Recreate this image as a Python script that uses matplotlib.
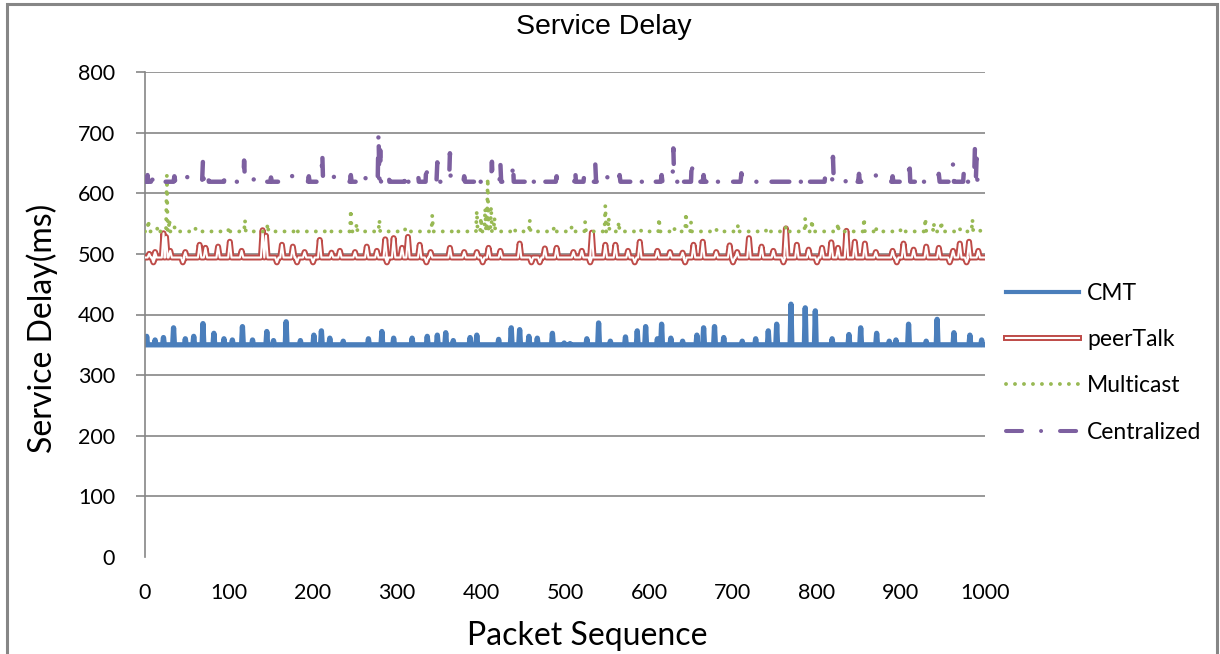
import matplotlib
matplotlib.use("Agg")
import matplotlib.pyplot as plt
from matplotlib.lines import Line2D
from matplotlib.patches import Rectangle
from matplotlib.legend_handler import HandlerTuple

# baseline delay (ms) of each series and its visible bumps as (packet, ms)
cmt_base = 350
cmt_peaks = [(2, 364), (12, 358), (22, 362), (34, 378), (48, 360), (58, 364), (69, 385),
             (82, 369), (94, 360), (104, 358), (116, 380), (128, 358), (145, 372), (153, 357),
             (168, 388), (185, 357), (201, 366), (210, 373), (220, 361), (236, 356), (266, 360),
             (282, 372), (296, 361), (318, 361), (336, 364), (348, 366), (358, 370), (367, 357),
             (387, 362), (395, 366), (421, 359), (436, 378), (446, 375), (457, 364), (467, 361),
             (485, 369), (499, 353), (506, 352), (526, 360), (540, 386), (554, 356), (572, 363),
             (586, 373), (596, 380), (610, 360), (615, 384), (626, 361), (640, 356), (657, 366),
             (665, 378), (678, 380), (689, 362), (711, 356), (727, 360), (742, 373), (752, 384),
             (769, 417), (786, 411), (798, 406), (818, 360), (838, 367), (852, 378), (871, 369),
             (886, 356), (894, 358), (909, 384), (930, 356), (943, 392), (963, 370), (982, 366),
             (996, 358)]

peer_base = 494
peer_peaks = [(5, 500), (10, 486), (12, 503), (22, 534), (25, 528), (30, 505), (45, 486),
              (48, 503), (65, 515), (72, 510), (87, 512), (101, 520), (115, 505), (140, 539),
              (144, 530), (157, 486), (163, 515), (176, 512), (181, 486), (190, 503), (200, 486),
              (208, 523), (222, 502), (232, 505), (250, 503), (264, 512), (276, 505), (286, 524),
              (288, 486), (296, 526), (306, 510), (313, 528), (327, 515), (335, 486), (340, 503),
              (363, 510), (380, 503), (395, 503), (402, 486), (409, 510), (423, 505), (446, 517),
              (460, 486), (470, 486), (476, 509), (490, 510), (510, 503), (520, 505), (530, 486),
              (532, 535), (548, 515), (560, 515), (575, 505), (583, 486), (589, 520), (610, 505),
              (625, 503), (640, 502), (643, 486), (653, 515), (664, 520), (680, 503), (696, 514),
              (700, 486), (705, 503), (719, 526), (734, 512), (748, 505), (760, 486), (763, 542),
              (776, 515), (790, 507), (800, 486), (806, 510), (817, 519), (825, 510), (835, 538),
              (845, 520), (857, 517), (870, 503), (890, 505), (895, 486), (903, 517), (915, 507),
              (930, 512), (945, 510), (958, 486), (962, 505), (970, 517), (978, 486), (981, 520),
              (992, 505)]

multi_base = 537
multi_peaks = [(4, 556), (15, 545), (26, 630), (29, 557), (35, 545), (60, 542), (100, 545),
               (119, 556), (146, 550), (180, 542), (215, 540), (245, 573), (252, 550), (279, 556),
               (310, 542), (342, 564), (370, 540), (395, 571), (400, 560), (405, 575), (408, 625),
               (412, 578), (416, 560), (440, 542), (458, 556), (487, 545), (508, 545), (524, 553),
               (548, 580), (552, 560), (564, 553), (590, 540), (612, 559), (630, 543), (644, 568),
               (650, 552), (680, 541), (706, 548), (740, 542), (763, 545), (786, 559), (794, 556),
               (825, 551), (856, 559), (870, 545), (900, 542), (929, 559), (939, 551), (948, 554),
               (970, 542), (985, 557), (995, 540)]

central_base = 619
central_peaks = [(3, 630), (8, 638), (20, 625), (35, 628), (50, 630), (69, 655), (75, 632),
                 (95, 628), (118, 654), (130, 628), (150, 626), (175, 630), (195, 628), (211, 669),
                 (225, 628), (245, 630), (262, 632), (278, 702), (280, 671), (290, 632), (310, 635),
                 (325, 632), (335, 650), (348, 651), (363, 666), (380, 628), (395, 632), (413, 652),
                 (423, 652), (438, 651), (455, 630), (470, 628), (490, 628), (512, 642), (523, 632),
                 (536, 650), (550, 632), (565, 630), (580, 628), (600, 626), (615, 630), (629, 674),
                 (640, 632), (651, 656), (665, 630), (680, 628), (695, 625), (710, 633), (740, 625),
                 (770, 628), (790, 630), (810, 632), (819, 660), (835, 628), (850, 632), (870, 630),
                 (890, 628), (910, 657), (925, 630), (945, 632), (962, 651), (975, 640), (988, 676),
                 (990, 657), (998, 625)]

y_ticks = [0, 100, 200, 300, 400, 500, 600, 700, 800]
x_ticks = [0, 100, 200, 300, 400, 500, 600, 700, 800, 900, 1000]

GRID = "#868686"
FONT = "Lato"


def build_series(base, peaks, width=1):
    # flat baseline between bumps, each bump rises and falls within a few packets
    xs, ys = [0], [base]
    for p, v in peaks:
        xs += [p - width, p, p + width]
        ys += [base, v, base]
    xs.append(1000)
    ys.append(base)
    return xs, ys


fig = plt.figure(figsize=(12.2, 6.54), dpi=100)
ax = fig.add_axes([145 / 1220, 1 - 557 / 654, 840 / 1220, 485 / 654])

ax.hlines(y_ticks[1:], 0, 1000, color=GRID, lw=1.2, zorder=0)

x, y = build_series(cmt_base, cmt_peaks)
ax.plot(x, y, color="#4A7EBB", lw=3.8, solid_joinstyle="round", zorder=2)

x, y = build_series(peer_base, peer_peaks, width=2)
ax.plot(x, y, color="#BE4B48", lw=4.3, solid_joinstyle="round", zorder=3)
ax.plot(x, y, color="white", lw=1.5, solid_joinstyle="round", zorder=3)

x, y = build_series(multi_base, multi_peaks)
ax.plot(x, y, color="#98B954", lw=2.8, linestyle=(0, (0.01, 2.3)),
        dash_capstyle="round", zorder=4)

central_style = (0, (4, 4.7, 0.01, 4.7))
x, y = build_series(central_base, central_peaks)
ax.plot(x, y, color="#7D60A0", lw=3.2, linestyle=central_style,
        dash_capstyle="round", zorder=5)

ax.set_xlim(0, 1000)
ax.set_ylim(0, 800)
ax.set_xticks(x_ticks)
ax.set_yticks(y_ticks)
for s in ["top", "right", "bottom"]:
    ax.spines[s].set_visible(False)
ax.spines["left"].set_color(GRID)
ax.spines["left"].set_linewidth(1.2)
ax.tick_params(axis="x", length=0, pad=19, labelsize=15.5)
ax.tick_params(axis="y", length=6.5, width=1.2, color=GRID, pad=15, labelsize=15.5)
ax.yaxis.get_major_ticks()[0].tick1line.set_visible(False)
for lab in ax.get_xticklabels() + ax.get_yticklabels():
    lab.set_fontfamily(FONT)

fig.text(604 / 1220, 1 - 27 / 654, "Service Delay", ha="center", va="center",
         fontsize=20.5, family="Liberation Sans")
fig.text(587 / 1220, 1 - 636 / 654, "Packet Sequence", ha="center", va="center",
         fontsize=23, family=FONT)
fig.text(42 / 1220, 1 - 328 / 654, "Service Delay(ms)", ha="center", va="center",
         rotation=90, fontsize=23, family=FONT)

handles = [
    Line2D([], [], color="#4A7EBB", lw=3.0),
    (Line2D([], [], color="#BE4B48", lw=4.3), Line2D([], [], color="white", lw=1.5)),
    Line2D([], [], color="#98B954", lw=2.8, linestyle=(0, (0.01, 2.3)), dash_capstyle="round"),
    Line2D([], [], color="#7D60A0", lw=2.9, linestyle=central_style, dash_capstyle="round"),
]
fig.legend(handles, ["CMT", "peerTalk", "Multicast", "Centralized"],
           handler_map={tuple: HandlerTuple(ndivide=1)},
           loc="upper left", bbox_to_anchor=(1006 / 1220, 1 - 283 / 654),
           frameon=False, borderpad=0, borderaxespad=0, handlelength=3.2,
           handletextpad=0.35, labelspacing=1.1, prop={"family": FONT, "size": 16.5})

fig.patches.append(Rectangle((7 / 1220, -0.02), 1210 / 1220, 1.02 - 4 / 654,
                             transform=fig.transFigure, fill=False,
                             edgecolor=GRID, lw=2.2))

fig.savefig("out.png", dpi=100)
